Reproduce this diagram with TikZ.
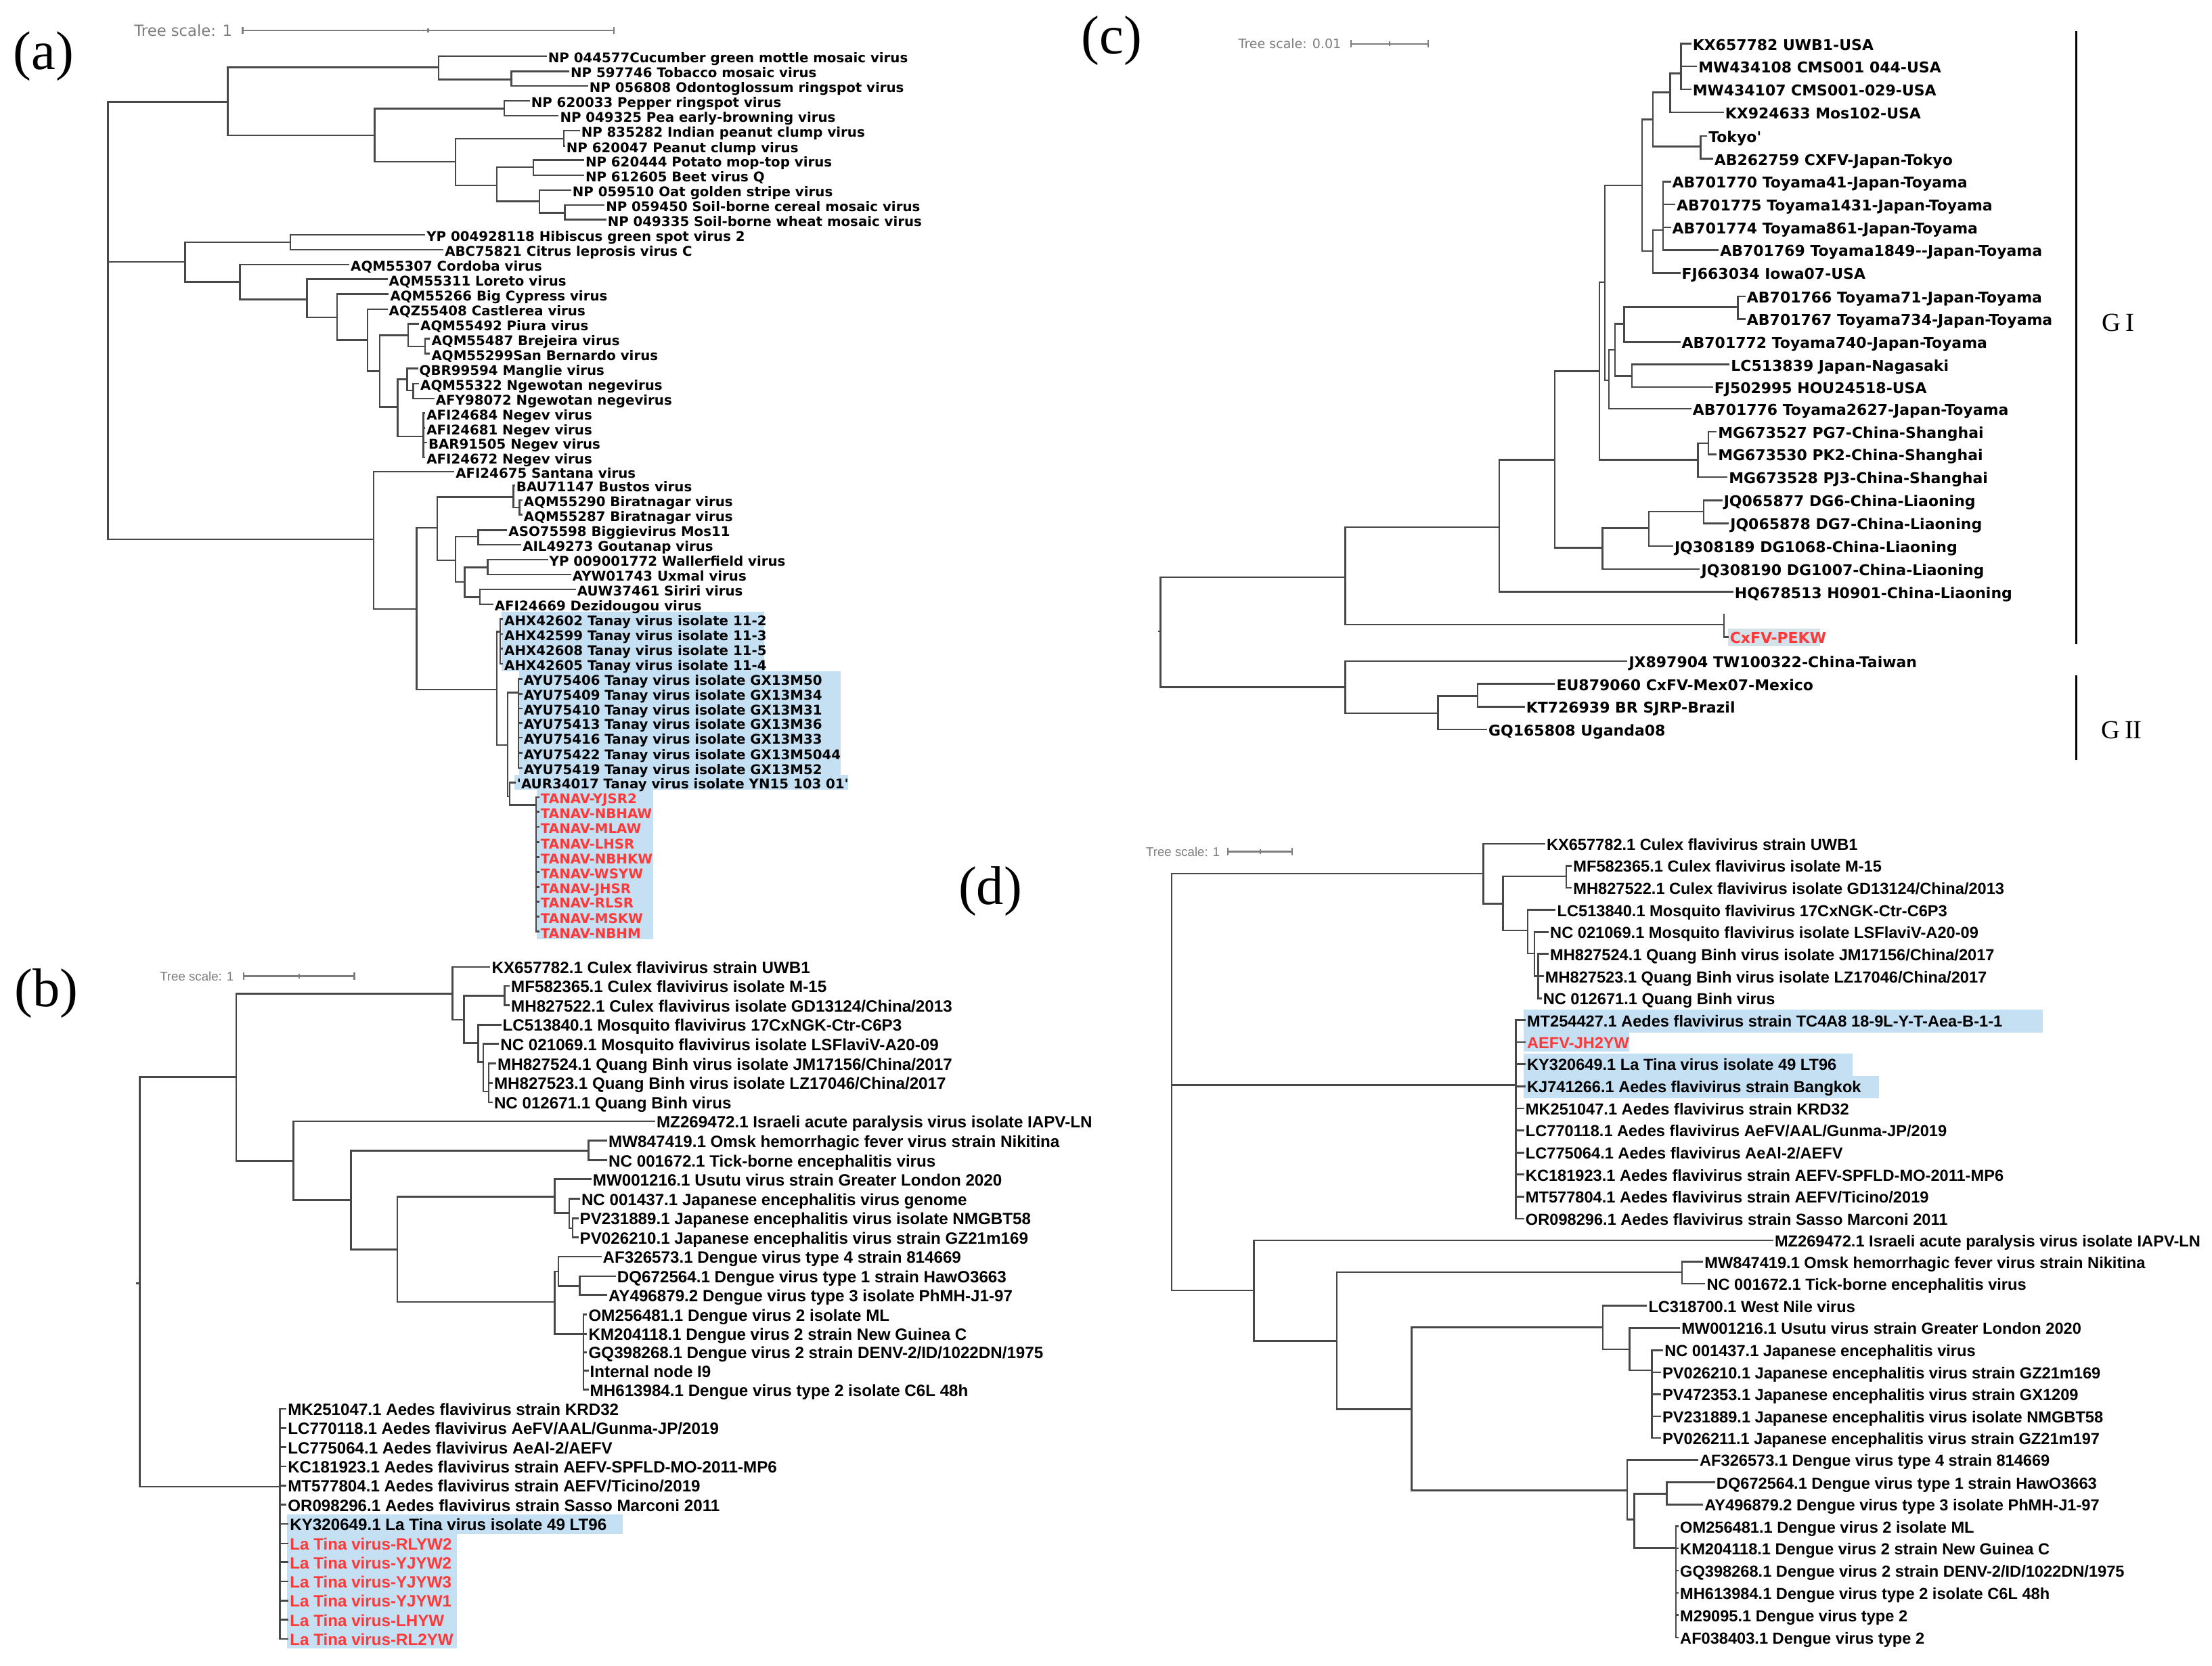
\documentclass[tikz,border=0pt]{standalone}
\usepackage{fontspec}
\setmainfont{Liberation Serif}
\newfontfamily\dejavu{DejaVu Sans}
\newfontfamily\arialf{Liberation Sans}
\definecolor{hl}{RGB}{197,224,243}
\definecolor{hlg}{RGB}{212,226,234}
\definecolor{hred}{RGB}{255,56,56}
\definecolor{brn}{RGB}{72,72,72}
\definecolor{scl}{RGB}{125,125,125}
\tikzset{
  branch/.style={draw=brn, line width=0.7pt},
  scalebar/.style={draw=scl, line width=0.6pt},
  gbar/.style={draw=black, line width=0.9pt},
  leaf/.style={anchor=west, inner xsep=0.4pt, inner ysep=0pt, text height=0.72em, text depth=0.2em},
  leafa/.style={leaf, font=\dejavu\bfseries\fontsize{5.4}{6}\selectfont},
  leafc/.style={leaf, font=\dejavu\bfseries\fontsize{6}{7}\selectfont},
  leafb/.style={leaf, font=\arialf\bfseries\fontsize{6.6}{7}\selectfont},
  leafd/.style={leaf, font=\arialf\bfseries\fontsize{6.45}{7}\selectfont},
  red/.style={text=hred},
  scaletxt/.style={anchor=east, inner sep=0pt, text=scl, font=\dejavu\fontsize{#1}{#1}\selectfont},
  scaletxtb/.style={anchor=east, inner sep=0pt, text=scl, font=\arialf\fontsize{#1}{#1}\selectfont},
  panel/.style={inner sep=0pt, font=\fontsize{22}{24}\selectfont},
  glabel/.style={inner sep=0pt, font=\fontsize{10.5}{12}\selectfont}
}
\begin{document}
\begin{tikzpicture}[x=0.02cm,y=-0.02cm]
\useasboundingbox (0,0) rectangle (1568,1181);

% label backgrounds
\fill[hl] (355.5,433.6) rectangle (541.7,475.8);
\fill[hl] (368,475.8) rectangle (596,549.5);
\fill[hl] (364.7,549.5) rectangle (601,559.8);
\fill[hl] (380.7,559.8) rectangle (463,666);
\fill[hl] (203.5,1073.6) rectangle (441.5,1087.5);
\fill[hl] (203.5,1087.5) rectangle (323.8,1169);
\fill[hlg] (1224.9,445.5) rectangle (1290,458.3);
\fill[hl] (1080,715.8) rectangle (1448,732.2);
\fill[hl] (1080,732.2) rectangle (1155,745.8);
\fill[hl] (1080,746.8) rectangle (1313,762.8);
\fill[hl] (1080,762.8) rectangle (1332,778.8);

% panel letters
\node[panel] (pa) at (31,40) {(a)};
\node[panel] (pb) at (33,704.5) {(b)};
\node[panel] (pc) at (788,29) {(c)};
\node[panel] (pd) at (702,632) {(d)};

% tree scales
\node[scaletxt=6.2] (ta) at (165,21.5) {Tree scale: 1};
\coordinate (sa1) at (172,21.5); \coordinate (sa2) at (435,21.5); \coordinate (sa3) at (303.5,21.5);
\draw[scalebar] (sa1) -- (sa2) (sa1) ++(0,-2.5) -- ++(0,5) (sa2) ++(0,-2.5) -- ++(0,5) (sa3) ++(0,-1.5) -- ++(0,3);
\node[scaletxtb=5.1] (tb) at (166,692.1) {Tree scale: 1};
\coordinate (sb1) at (172.6,692.1); \coordinate (sb2) at (251.2,692.1); \coordinate (sb3) at (212,692.1);
\draw[scalebar] (sb1) -- (sb2) (sb1) ++(0,-2.5) -- ++(0,5) (sb2) ++(0,-2.5) -- ++(0,5) (sb3) ++(0,-1.5) -- ++(0,3);
\node[scaletxt=5.2] (tc) at (951,31) {Tree scale: 0.01};
\coordinate (sc1) at (957.6,31); \coordinate (sc2) at (1012.5,31); \coordinate (sc3) at (985,31);
\draw[scalebar] (sc1) -- (sc2) (sc1) ++(0,-2.5) -- ++(0,5) (sc2) ++(0,-2.5) -- ++(0,5) (sc3) ++(0,-1.5) -- ++(0,3);
\node[scaletxtb=5.1] (td) at (865,603.8) {Tree scale: 1};
\coordinate (sd1) at (870.3,603.8); \coordinate (sd2) at (916.1,603.8); \coordinate (sd3) at (893.2,603.8);
\draw[scalebar] (sd1) -- (sd2) (sd1) ++(0,-2.5) -- ++(0,5) (sd2) ++(0,-2.5) -- ++(0,5) (sd3) ++(0,-1.5) -- ++(0,3);

% ---------------- (a) ----------------
\node[leafa] (la1) at (387.5,39.8) {NP 044577Cucumber green mottle mosaic virus};
\node[leafa] (la2) at (403.5,50.6) {NP 597746 Tobacco mosaic virus};
\node[leafa] (la3) at (416.8,61) {NP 056808 Odontoglossum ringspot virus};
\node[leafa] (la4) at (375.5,71.5) {NP 620033 Pepper ringspot virus};
\node[leafa] (la5) at (396,82) {NP 049325 Pea early-browning virus};
\node[leafa] (la6) at (411,92.6) {NP 835282 Indian peanut clump virus};
\node[leafa] (la7) at (400.5,103.4) {NP 620047 Peanut clump virus};
\node[leafa] (la8) at (414,113.5) {NP 620444 Potato mop-top virus};
\node[leafa] (la9) at (414,124.3) {NP 612605 Beet virus Q};
\node[leafa] (la10) at (404.8,134.8) {NP 059510 Oat golden stripe virus};
\node[leafa] (la11) at (428.5,145.4) {NP 059450 Soil-borne cereal mosaic virus};
\node[leafa] (la12) at (429.7,155.7) {NP 049335 Soil-borne wheat mosaic virus};
\node[leafa] (la13) at (301.4,166.5) {YP 004928118 Hibiscus green spot virus 2};
\node[leafa] (la14) at (314.3,177) {ABC75821 Citrus leprosis virus C};
\node[leafa] (la15) at (247.6,187.6) {AQM55307 Cordoba virus};
\node[leafa] (la16) at (274.7,198) {AQM55311 Loreto virus};
\node[leafa] (la17) at (275.6,208.5) {AQM55266 Big Cypress virus};
\node[leafa] (la18) at (274.7,219.3) {AQZ55408 Castlerea virus};
\node[leafa] (la19) at (297,229.6) {AQM55492 Piura virus};
\node[leafa] (la20) at (304.9,240.2) {AQM55487 Brejeira virus};
\node[leafa] (la21) at (304.9,250.7) {AQM55299San Bernardo virus};
\node[leafa] (la22) at (296.3,261.3) {QBR99594 Manglie virus};
\node[leafa] (la23) at (297,272) {AQM55322 Ngewotan negevirus};
\node[leafa] (la24) at (307.9,282.6) {AFY98072 Ngewotan negevirus};
\node[leafa] (la25) at (301.4,293) {AFI24684 Negev virus};
\node[leafa] (la26) at (301.4,303.5) {AFI24681 Negev virus};
\node[leafa] (la27) at (302.7,313.8) {BAR91505 Negev virus};
\node[leafa] (la28) at (301.4,324.4) {AFI24672 Negev virus};
\node[leafa] (la29) at (322,334.5) {AFI24675 Santana virus};
\node[leafa] (la30) at (365,344.2) {BAU71147 Bustos virus};
\node[leafa] (la31) at (370.3,354.6) {AQM55290 Biratnagar virus};
\node[leafa] (la32) at (370.3,365) {AQM55287 Biratnagar virus};
\node[leafa] (la33) at (359.5,375.8) {ASO75598 Biggievirus Mos11};
\node[leafa] (la34) at (369.5,386.2) {AIL49273 Goutanap virus};
\node[leafa] (la35) at (388.4,396.8) {YP 009001772 Wallerfield virus};
\node[leafa] (la36) at (404.8,407.4) {AYW01743 Uxmal virus};
\node[leafa] (la37) at (408.2,418) {AUW37461 Siriri virus};
\node[leafa] (la38) at (349.6,428.4) {AFI24669 Dezidougou virus};
\node[leafa] (la39) at (356.5,438.8) {AHX42602 Tanay virus isolate 11-2};
\node[leafa] (la40) at (356.5,449.6) {AHX42599 Tanay virus isolate 11-3};
\node[leafa] (la41) at (356.5,460) {AHX42608 Tanay virus isolate 11-5};
\node[leafa] (la42) at (356.5,470.6) {AHX42605 Tanay virus isolate 11-4};
\node[leafa] (la43) at (370.3,481.4) {AYU75406 Tanay virus isolate GX13M50};
\node[leafa] (la44) at (370.3,491.9) {AYU75409 Tanay virus isolate GX13M34};
\node[leafa] (la45) at (370.3,502.3) {AYU75410 Tanay virus isolate GX13M31};
\node[leafa] (la46) at (370.3,512.6) {AYU75413 Tanay virus isolate GX13M36};
\node[leafa] (la47) at (370.3,523) {AYU75416 Tanay virus isolate GX13M33};
\node[leafa] (la48) at (370.3,533.8) {AYU75422 Tanay virus isolate GX13M5044};
\node[leafa] (la49) at (370.3,544.5) {AYU75419 Tanay virus isolate GX13M52};
\node[leafa] (la50) at (365.5,554.8) {'AUR34017 Tanay virus isolate YN15 103 01'};
\node[leafa,red] (la51) at (382.3,565.2) {TANAV-YJSR2};
\node[leafa,red] (la52) at (382.3,575.6) {TANAV-NBHAW};
\node[leafa,red] (la53) at (382.3,586.4) {TANAV-MLAW};
\node[leafa,red] (la54) at (382.3,597.1) {TANAV-LHSR};
\node[leafa,red] (la55) at (382.3,607.7) {TANAV-NBHKW};
\node[leafa,red] (la56) at (382.3,618.3) {TANAV-WSYW};
\node[leafa,red] (la57) at (382.3,628.9) {TANAV-JHSR};
\node[leafa,red] (la58) at (382.3,639.3) {TANAV-RLSR};
\node[leafa,red] (la59) at (382.3,649.9) {TANAV-MSKW};
\node[leafa,red] (la60) at (382.3,660.5) {TANAV-NBHM};

\coordinate (ra) at (76.6,185.7);
\coordinate (a1) at (161.5,72.2);
\coordinate (a2) at (310.9,47.8);
\coordinate (a3) at (362.6,56.4);
\coordinate (a4) at (265.7,95.9);
\coordinate (a5) at (357.4,76.9);
\coordinate (a6) at (323,114.6);
\coordinate (a7) at (399.6,98.4);
\coordinate (a8) at (352.2,131.4);
\coordinate (a9) at (378,118.5);
\coordinate (a10) at (382.4,142.6);
\coordinate (a11) at (400.5,150.8);
\coordinate (a12) at (131.3,185.7);
\coordinate (a13) at (205.8,171.7);
\coordinate (a14) at (170.1,199.9);
\coordinate (a15) at (217.5,212.2);
\coordinate (a16) at (239,225);
\coordinate (a17) at (260.5,241.2);
\coordinate (a18) at (269.1,263.2);
\coordinate (a19) at (289.4,237.6);
\coordinate (a20) at (301.4,245.6);
\coordinate (a21) at (282,288.6);
\coordinate (a22) at (288.5,268.8);
\coordinate (a23) at (292.8,276.8);
\coordinate (a24) at (300.1,309.5);
\coordinate (a25) at (264.8,382.3);
\coordinate (a26) at (295.4,431.9);
\coordinate (a27) at (310,374.2);
\coordinate (a28) at (363.9,352.3);
\coordinate (a29) at (368.2,359.8);
\coordinate (a30) at (323,397.3);
\coordinate (a31) at (338.9,380.4);
\coordinate (a32) at (329.4,412.7);
\coordinate (a33) at (345.8,402.3);
\coordinate (a34) at (340.2,423.3);
\coordinate (a35) at (352.2,488.9);
\coordinate (a36) at (354.5,448);
\coordinate (a37) at (359.9,528.2);
\coordinate (a38) at (367.6,491.1);
\coordinate (a39) at (361.2,564.7);
\coordinate (a40) at (379.9,570.8);

\draw[branch] (ra) |- (a1) (ra) |- (a12) (ra) |- (a25)
  (a1) |- (a2) (a1) |- (a4)
  (a2) |- (la1.west) (a2) |- (a3) (a3) |- (la2.west) (a3) |- (la3.west)
  (a4) |- (a5) (a4) |- (a6) (a5) |- (la4.west) (a5) |- (la5.west)
  (a6) |- (a7) (a6) |- (a8) (a7) |- (la6.west) (a7) |- (la7.west)
  (a8) |- (a9) (a8) |- (a10) (a9) |- (la8.west) (a9) |- (la9.west)
  (a10) |- (la10.west) (a10) |- (a11) (a11) |- (la11.west) (a11) |- (la12.west);
\draw[branch] (a12) |- (a13) (a12) |- (a14)
  (a13) |- (la13.west) (a13) |- (la14.west)
  (a14) |- (la15.west) (a14) |- (a15)
  (a15) |- (la16.west) (a15) |- (a16)
  (a16) |- (la17.west) (a16) |- (a17)
  (a17) |- (la18.west) (a17) |- (a18)
  (a18) |- (a19) (a18) |- (a21)
  (a19) |- (la19.west) (a19) |- (a20) (a20) |- (la20.west) (a20) |- (la21.west)
  (a21) |- (a22) (a21) |- (a24)
  (a22) |- (la22.west) (a22) |- (a23) (a23) |- (la23.west) (a23) |- (la24.west)
  (a24) |- (la25.west) (a24) |- (la26.west) (a24) |- (la27.west) (a24) |- (la28.west);
\draw[branch] (a25) |- (la29.west) (a25) |- (a26)
  (a26) |- (a27) (a26) |- (a35)
  (a27) |- (a28) (a27) |- (a30)
  (a28) |- (la30.west) (a28) |- (a29) (a29) |- (la31.west) (a29) |- (la32.west)
  (a30) |- (a31) (a30) |- (a32)
  (a31) |- (la33.west) (a31) |- (la34.west)
  (a32) |- (a33) (a32) |- (a34)
  (a33) |- (la35.west) (a33) |- (la36.west)
  (a34) |- (la37.west) (a34) |- (la38.west)
  (a35) |- (a36) (a35) |- (a37)
  (a36) |- (la39.west) (a36) |- (la40.west) (a36) |- (la41.west) (a36) |- (la42.west)
  (a37) |- (a38) (a37) |- (a39)
  (a39) |- (la50.west) (a39) |- (a40);
\foreach \i in {43,...,49} \draw[branch] (a38) |- (la\i.west);
\foreach \i in {51,...,60} \draw[branch] (a40) |- (la\i.west);

% ---------------- (b) ----------------
\node[leafb] (lb1) at (347.6,685.6) {KX657782.1 Culex flavivirus strain UWB1};
\node[leafb] (lb2) at (361.3,699.1) {MF582365.1 Culex flavivirus isolate M-15};
\node[leafb] (lb3) at (361.3,712.8) {MH827522.1 Culex flavivirus isolate GD13124/China/2013};
\node[leafb] (lb4) at (355.3,726.6) {LC513840.1 Mosquito flavivirus 17CxNGK-Ctr-C6P3};
\node[leafb] (lb5) at (353.7,740.1) {NC 021069.1 Mosquito flavivirus isolate LSFlaviV-A20-09};
\node[leafb] (lb6) at (351.7,754) {MH827524.1 Quang Binh virus isolate JM17156/China/2017};
\node[leafb] (lb7) at (349.2,767.8) {MH827523.1 Quang Binh virus isolate LZ17046/China/2017};
\node[leafb] (lb8) at (349.2,781.6) {NC 012671.1 Quang Binh virus};
\node[leafb] (lb9) at (464.4,795.1) {MZ269472.1 Israeli acute paralysis virus isolate IAPV-LN};
\node[leafb] (lb10) at (430.4,808.8) {MW847419.1 Omsk hemorrhagic fever virus strain Nikitina};
\node[leafb] (lb11) at (430.4,822.6) {NC 001672.1 Tick-borne encephalitis virus};
\node[leafb] (lb12) at (419.2,836.1) {MW001216.1 Usutu virus strain Greater London 2020};
\node[leafb] (lb13) at (411.1,850) {NC 001437.1 Japanese encephalitis virus genome};
\node[leafb] (lb14) at (410,863.8) {PV231889.1 Japanese encephalitis virus isolate NMGBT58};
\node[leafb] (lb15) at (410,877.3) {PV026210.1 Japanese encephalitis virus strain GZ21m169};
\node[leafb] (lb16) at (426.3,890.9) {AF326573.1 Dengue virus type 4 strain 814669};
\node[leafb] (lb17) at (436.5,904.8) {DQ672564.1 Dengue virus type 1 strain HawO3663};
\node[leafb] (lb18) at (430.4,918.2) {AY496879.2 Dengue virus type 3 isolate PhMH-J1-97};
\node[leafb] (lb19) at (416.2,932.1) {OM256481.1 Dengue virus 2 isolate ML};
\node[leafb] (lb20) at (416.2,945.8) {KM204118.1 Dengue virus 2 strain New Guinea C};
\node[leafb] (lb21) at (416.2,958.8) {GQ398268.1 Dengue virus 2 strain DENV-2/ID/1022DN/1975};
\node[leafb] (lb22) at (417.2,971.9) {Internal node I9};
\node[leafb] (lb23) at (417.2,985.3) {MH613984.1 Dengue virus type 2 isolate C6L 48h};
\node[leafb] (lb24) at (203,998.9) {MK251047.1 Aedes flavivirus strain KRD32};
\node[leafb] (lb25) at (203,1012.5) {LC770118.1 Aedes flavivirus AeFV/AAL/Gunma-JP/2019};
\node[leafb] (lb26) at (203,1026.1) {LC775064.1 Aedes flavivirus AeAl-2/AEFV};
\node[leafb] (lb27) at (203,1039.7) {KC181923.1 Aedes flavivirus strain AEFV-SPFLD-MO-2011-MP6};
\node[leafb] (lb28) at (203,1053.3) {MT577804.1 Aedes flavivirus strain AEFV/Ticino/2019};
\node[leafb] (lb29) at (203,1066.9) {OR098296.1 Aedes flavivirus strain Sasso Marconi 2011};
\node[leafb] (lb30) at (204.5,1080.5) {KY320649.1 La Tina virus isolate 49 LT96};
\node[leafb,red] (lb31) at (204.5,1094.4) {La Tina virus-RLYW2};
\node[leafb,red] (lb32) at (204.5,1107.7) {La Tina virus-YJYW2};
\node[leafb,red] (lb33) at (204.5,1121.3) {La Tina virus-YJYW3};
\node[leafb,red] (lb34) at (204.5,1134.9) {La Tina virus-YJYW1};
\node[leafb,red] (lb35) at (204.5,1148.5) {La Tina virus-LHYW};
\node[leafb,red] (lb36) at (204.5,1162.1) {La Tina virus-RL2YW};

\coordinate (rb) at (99,910);
\coordinate (rbstub) at (96.4,910);
\coordinate (b1) at (167.5,763.5);
\coordinate (b2) at (320.7,704.7);
\coordinate (b3) at (328.9,723.1);
\coordinate (b4) at (357.8,706);
\coordinate (b5) at (339,739.7);
\coordinate (b6) at (342.6,753);
\coordinate (b7) at (346.5,774);
\coordinate (b8) at (208,823.2);
\coordinate (b9) at (248.7,850.9);
\coordinate (b10) at (417.2,815.8);
\coordinate (b11) at (281.7,886);
\coordinate (b12) at (393.3,848.6);
\coordinate (b13) at (403.5,860.1);
\coordinate (b14) at (406,870.8);
\coordinate (b15) at (393.3,923.2);
\coordinate (b16) at (395.9,901.6);
\coordinate (b17) at (411,911.8);
\coordinate (b18) at (413.6,945.9);
\coordinate (b19) at (198.5,1054.1);

\draw[branch] (rb) -- (rbstub) (rb) |- (b1) (rb) |- (b19)
  (b1) |- (b2) (b1) |- (b8)
  (b2) |- (lb1.west) (b2) |- (b3)
  (b3) |- (b4) (b3) |- (b5) (b4) |- (lb2.west) (b4) |- (lb3.west)
  (b5) |- (lb4.west) (b5) |- (b6) (b6) |- (lb5.west) (b6) |- (b7)
  (b7) |- (lb6.west) (b7) |- (lb7.west) (b7) |- (lb8.west)
  (b8) |- (lb9.west) (b8) |- (b9)
  (b9) |- (b10) (b9) |- (b11) (b10) |- (lb10.west) (b10) |- (lb11.west)
  (b11) |- (b12) (b11) |- (b15)
  (b12) |- (lb12.west) (b12) |- (b13) (b13) |- (lb13.west) (b13) |- (b14)
  (b14) |- (lb14.west) (b14) |- (lb15.west)
  (b15) |- (b16) (b15) |- (b18)
  (b16) |- (lb16.west) (b16) |- (b17) (b17) |- (lb17.west) (b17) |- (lb18.west);
\foreach \i in {19,...,23} \draw[branch] (b18) |- (lb\i.west);
\foreach \i in {24,...,36} \draw[branch] (b19) |- (lb\i.west);

% ---------------- (c) ----------------
\node[leafc] (lc1) at (1198.8,31) {KX657782 UWB1-USA};
\node[leafc] (lc2) at (1202.9,47.1) {MW434108 CMS001 044-USA};
\node[leafc] (lc3) at (1198.8,63.3) {MW434107 CMS001-029-USA};
\node[leafc] (lc4) at (1221.9,79.7) {KX924633 Mos102-USA};
\node[leafc] (lc5) at (1210.1,96.4) {Tokyo'};
\node[leafc] (lc6) at (1214.2,112.6) {AB262759 CXFV-Japan-Tokyo};
\node[leafc] (lc7) at (1184.4,128.7) {AB701770 Toyama41-Japan-Toyama};
\node[leafc] (lc8) at (1187.5,144.9) {AB701775 Toyama1431-Japan-Toyama};
\node[leafc] (lc9) at (1184.4,161.2) {AB701774 Toyama861-Japan-Toyama};
\node[leafc] (lc10) at (1218.3,177.2) {AB701769 Toyama1849--Japan-Toyama};
\node[leafc] (lc11) at (1191.1,193.5) {FJ663034 Iowa07-USA};
\node[leafc] (lc12) at (1237.3,210.1) {AB701766 Toyama71-Japan-Toyama};
\node[leafc] (lc13) at (1237.3,226.1) {AB701767 Toyama734-Japan-Toyama};
\node[leafc] (lc14) at (1191.1,242.4) {AB701772 Toyama740-Japan-Toyama};
\node[leafc] (lc15) at (1226,258.4) {LC513839 Japan-Nagasaki};
\node[leafc] (lc16) at (1214.2,274.5) {FJ502995 HOU24518-USA};
\node[leafc] (lc17) at (1198.8,289.7) {AB701776 Toyama2627-Japan-Toyama};
\node[leafc] (lc18) at (1216.8,306) {MG673527 PG7-China-Shanghai};
\node[leafc] (lc19) at (1216.8,322.1) {MG673530 PK2-China-Shanghai};
\node[leafc] (lc20) at (1224.5,338.3) {MG673528 PJ3-China-Shanghai};
\node[leafc] (lc21) at (1220.9,354.7) {JQ065877 DG6-China-Liaoning};
\node[leafc] (lc22) at (1225.5,371) {JQ065878 DG7-China-Liaoning};
\node[leafc] (lc23) at (1186,387.2) {JQ308189 DG1068-China-Liaoning};
\node[leafc] (lc24) at (1205,403.6) {JQ308190 DG1007-China-Liaoning};
\node[leafc] (lc25) at (1228.6,419.7) {HQ678513 H0901-China-Liaoning};
\node[leafc,red] (lc26) at (1225.2,451.6) {CxFV-PEKW};
\node[leafc] (lc27) at (1153.6,468.8) {JX897904 TW100322-China-Taiwan};
\node[leafc] (lc28) at (1102.3,484.9) {EU879060 CxFV-Mex07-Mexico};
\node[leafc] (lc29) at (1080.8,501.1) {KT726939 BR SJRP-Brazil};
\node[leafc] (lc30) at (1054.1,517.3) {GQ165808 Uganda08};

\coordinate (rc) at (822.7,447.6);
\coordinate (rcstub) at (820.7,447.6);
\coordinate (c1) at (953.5,409.2);
\coordinate (c2) at (1062.8,373.7);
\coordinate (c3) at (1222,442.8);
\coordinate (cblank) at (1222,435.1);
\coordinate (c4) at (1102.1,326);
\coordinate (c5) at (1133.7,263.2);
\coordinate (c6) at (1136,388.4);
\coordinate (c7) at (1137.5,200);
\coordinate (c8) at (1203.7,326);
\coordinate (c9) at (1163.9,131.5);
\coordinate (c10) at (1140.4,269.6);
\coordinate (c11) at (1171.6,84.8);
\coordinate (c12) at (1171.6,177.9);
\coordinate (c13) at (1184,65.5);
\coordinate (c14) at (1205.5,104);
\coordinate (c15) at (1191.5,52);
\coordinate (c16) at (1178.8,163.2);
\coordinate (c17) at (1144.9,248);
\coordinate (c18) at (1151.3,229.6);
\coordinate (c19) at (1156.7,266.4);
\coordinate (c20) at (1231.9,217.6);
\coordinate (c21) at (1211,314.3);
\coordinate (c22) at (1168.8,374.6);
\coordinate (c23) at (1207.7,362.8);
\coordinate (c24) at (953.5,487.3);
\coordinate (c25) at (1019.2,505.7);
\coordinate (c26) at (1047.4,493.4);

\draw[branch] (rc) -- (rcstub) (rc) |- (c1) (rc) |- (c24)
  (c1) |- (c2) (c1) |- (c3) (c3) |- (cblank) (c3) |- (lc26.west)
  (c2) |- (c4) (c2) |- (lc25.west)
  (c4) |- (c5) (c4) |- (c6)
  (c5) |- (c7) (c5) |- (c8)
  (c7) |- (c9) (c7) |- (c10)
  (c9) |- (c11) (c9) |- (c12)
  (c11) |- (c13) (c11) |- (c14)
  (c13) |- (c15) (c13) |- (lc4.west)
  (c15) |- (lc1.west) (c15) |- (lc2.west) (c15) |- (lc3.west)
  (c14) |- (lc5.west) (c14) |- (lc6.west)
  (c12) |- (c16) (c12) |- (lc11.west)
  (c16) |- (lc7.west) (c16) |- (lc8.west) (c16) |- (lc9.west) (c16) |- (lc10.west)
  (c10) |- (c17) (c10) |- (lc17.west)
  (c17) |- (c18) (c17) |- (c19)
  (c18) |- (c20) (c18) |- (lc14.west) (c20) |- (lc12.west) (c20) |- (lc13.west)
  (c19) |- (lc15.west) (c19) |- (lc16.west)
  (c8) |- (c21) (c8) |- (lc20.west) (c21) |- (lc18.west) (c21) |- (lc19.west)
  (c6) |- (c22) (c6) |- (lc24.west)
  (c22) |- (c23) (c22) |- (lc23.west) (c23) |- (lc21.west) (c23) |- (lc22.west)
  (c24) |- (lc27.west) (c24) |- (c25)
  (c25) |- (c26) (c25) |- (lc30.west) (c26) |- (lc28.west) (c26) |- (lc29.west);

% genotype bars
\coordinate (g1t) at (1471.8,22.2); \coordinate (g1b) at (1471.8,456.8);
\coordinate (g2t) at (1471.8,479); \coordinate (g2b) at (1471.8,539);
\draw[gbar] (g1t) -- (g1b) (g2t) -- (g2b);
\node[glabel] (g1) at (1501.5,228.9) {G\,I};
\node[glabel] (g2) at (1504.1,517.7) {G\,II};

% ---------------- (d) ----------------
\node[leafd] (ld1) at (1095.3,598.2) {KX657782.1 Culex flavivirus strain UWB1};
\node[leafd] (ld2) at (1114.2,613.8) {MF582365.1 Culex flavivirus isolate M-15};
\node[leafd] (ld3) at (1114.2,629.4) {MH827522.1 Culex flavivirus isolate GD13124/China/2013};
\node[leafd] (ld4) at (1102.8,645.2) {LC513840.1 Mosquito flavivirus 17CxNGK-Ctr-C6P3};
\node[leafd] (ld5) at (1097.8,660.8) {NC 021069.1 Mosquito flavivirus isolate LSFlaviV-A20-09};
\node[leafd] (ld6) at (1097.8,676.4) {MH827524.1 Quang Binh virus isolate JM17156/China/2017};
\node[leafd] (ld7) at (1094.3,692.2) {MH827523.1 Quang Binh virus isolate LZ17046/China/2017};
\node[leafd] (ld8) at (1092.8,707.8) {NC 012671.1 Quang Binh virus};
\node[leafd] (ld9) at (1081.4,723.4) {MT254427.1 Aedes flavivirus strain TC4A8 18-9L-Y-T-Aea-B-1-1};
\node[leafd,red] (ld10) at (1081.4,738.8) {AEFV-JH2YW};
\node[leafd] (ld11) at (1081.4,754.4) {KY320649.1 La Tina virus isolate 49 LT96};
\node[leafd] (ld12) at (1081.4,770.2) {KJ741266.1 Aedes flavivirus strain Bangkok};
\node[leafd] (ld13) at (1080.4,785.8) {MK251047.1 Aedes flavivirus strain KRD32};
\node[leafd] (ld14) at (1080.4,801.4) {LC770118.1 Aedes flavivirus AeFV/AAL/Gunma-JP/2019};
\node[leafd] (ld15) at (1080.4,817.2) {LC775064.1 Aedes flavivirus AeAl-2/AEFV};
\node[leafd] (ld16) at (1080.4,832.8) {KC181923.1 Aedes flavivirus strain AEFV-SPFLD-MO-2011-MP6};
\node[leafd] (ld17) at (1080.4,848.4) {MT577804.1 Aedes flavivirus strain AEFV/Ticino/2019};
\node[leafd] (ld18) at (1080.4,864.2) {OR098296.1 Aedes flavivirus strain Sasso Marconi 2011};
\node[leafd] (ld19) at (1257,879.5) {MZ269472.1 Israeli acute paralysis virus isolate IAPV-LN};
\node[leafd] (ld20) at (1207.3,894.6) {MW847419.1 Omsk hemorrhagic fever virus strain Nikitina};
\node[leafd] (ld21) at (1208.8,910.1) {NC 001672.1 Tick-borne encephalitis virus};
\node[leafd] (ld22) at (1167.5,925.8) {LC318700.1 West Nile virus};
\node[leafd] (ld23) at (1190.9,941.5) {MW001216.1 Usutu virus strain Greater London 2020};
\node[leafd] (ld24) at (1178.9,957.4) {NC 001437.1 Japanese encephalitis virus};
\node[leafd] (ld25) at (1177.4,973) {PV026210.1 Japanese encephalitis virus strain GZ21m169};
\node[leafd] (ld26) at (1177.4,988.5) {PV472353.1 Japanese encephalitis virus strain GX1209};
\node[leafd] (ld27) at (1177.4,1004.2) {PV231889.1 Japanese encephalitis virus isolate NMGBT58};
\node[leafd] (ld28) at (1177.4,1019.5) {PV026211.1 Japanese encephalitis virus strain GZ21m197};
\node[leafd] (ld29) at (1203.8,1035.1) {AF326573.1 Dengue virus type 4 strain 814669};
\node[leafd] (ld30) at (1215.7,1051) {DQ672564.1 Dengue virus type 1 strain HawO3663};
\node[leafd] (ld31) at (1207.3,1066.7) {AY496879.2 Dengue virus type 3 isolate PhMH-J1-97};
\node[leafd] (ld32) at (1189.9,1082.2) {OM256481.1 Dengue virus 2 isolate ML};
\node[leafd] (ld33) at (1189.9,1097.8) {KM204118.1 Dengue virus 2 strain New Guinea C};
\node[leafd] (ld34) at (1189.9,1113.7) {GQ398268.1 Dengue virus 2 strain DENV-2/ID/1022DN/1975};
\node[leafd] (ld35) at (1189.9,1129.4) {MH613984.1 Dengue virus type 2 isolate C6L 48h};
\node[leafd] (ld36) at (1189.9,1145.1) {M29095.1 Dengue virus type 2};
\node[leafd] (ld37) at (1189.9,1161) {AF038403.1 Dengue virus type 2};

\coordinate (rd) at (830.5,769.4);
\coordinate (d1) at (1051.5,619.4);
\coordinate (d2) at (1065.4,640.8);
\coordinate (d3) at (1110.2,621.4);
\coordinate (d4) at (1082.9,659.8);
\coordinate (d5) at (1087.8,676);
\coordinate (d6) at (1090.3,692);
\coordinate (d7) at (1074.4,769.4);
\coordinate (d8) at (888.8,915);
\coordinate (d9) at (947.5,950.8);
\coordinate (d10) at (1192.3,902);
\coordinate (d11) at (1000.7,999.1);
\coordinate (d12) at (1136.1,941.1);
\coordinate (d13) at (1155,956.7);
\coordinate (d14) at (1171,971.6);
\coordinate (d15) at (1153.5,1056.7);
\coordinate (d16) at (1158.5,1077.5);
\coordinate (d17) at (1181.4,1059.1);
\coordinate (d18) at (1188,1097.4);

\draw[branch] (rd) |- (d1) (rd) |- (d7) (rd) |- (d8)
  (d1) |- (ld1.west) (d1) |- (d2)
  (d2) |- (d3) (d2) |- (d4) (d3) |- (ld2.west) (d3) |- (ld3.west)
  (d4) |- (ld4.west) (d4) |- (d5) (d5) |- (ld5.west) (d5) |- (d6)
  (d6) |- (ld6.west) (d6) |- (ld7.west) (d6) |- (ld8.west)
  (d8) |- (ld19.west) (d8) |- (d9)
  (d9) |- (d10) (d9) |- (d11) (d10) |- (ld20.west) (d10) |- (ld21.west)
  (d11) |- (d12) (d11) |- (d15)
  (d12) |- (ld22.west) (d12) |- (d13) (d13) |- (ld23.west) (d13) |- (d14)
  (d15) |- (ld29.west) (d15) |- (d16)
  (d16) |- (d17) (d16) |- (d18) (d17) |- (ld30.west) (d17) |- (ld31.west);
\foreach \i in {9,...,18} \draw[branch] (d7) |- (ld\i.west);
\foreach \i in {24,...,28} \draw[branch] (d14) |- (ld\i.west);
\foreach \i in {32,...,37} \draw[branch] (d18) |- (ld\i.west);
\end{tikzpicture}
\end{document}
